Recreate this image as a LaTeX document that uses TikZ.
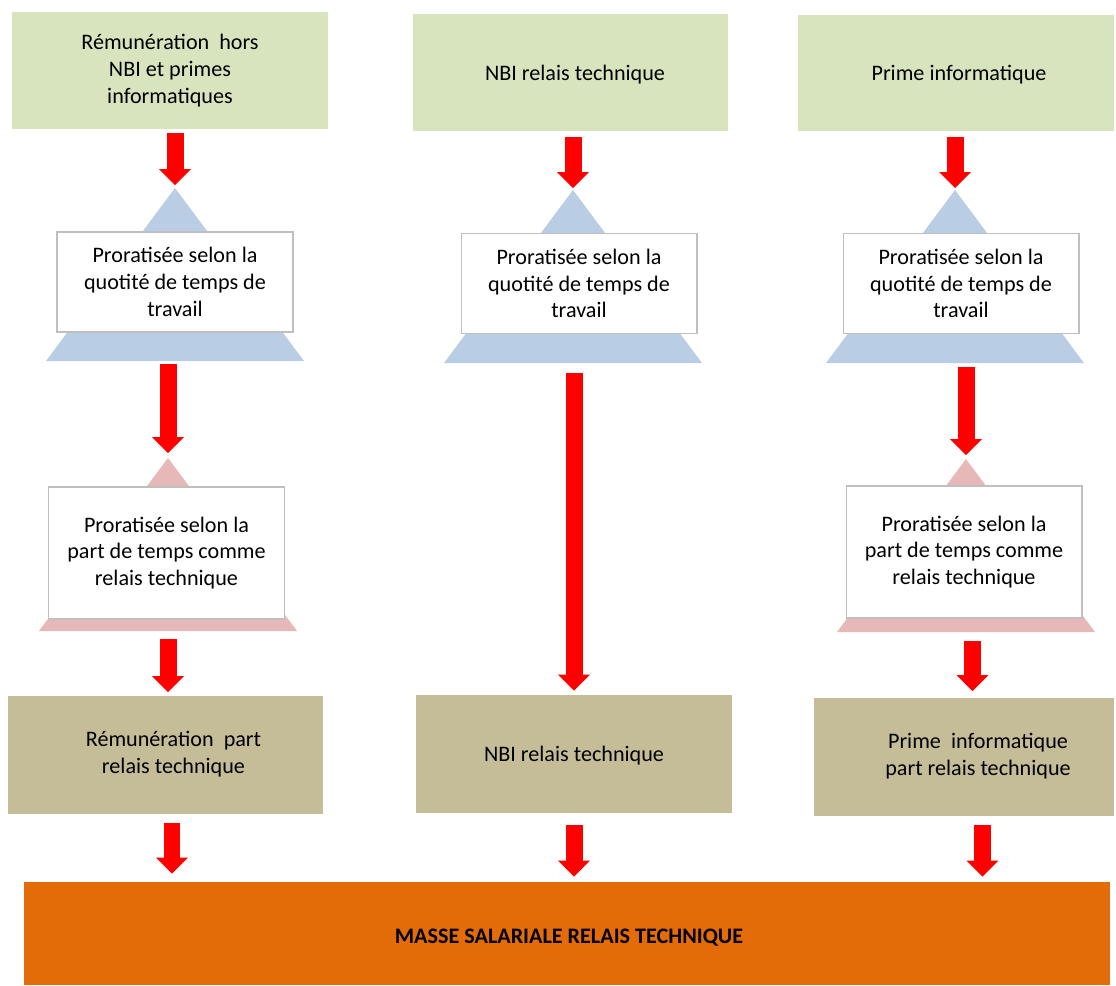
\documentclass[tikz,border=0pt]{standalone}
\usepackage{fontspec}
\setmainfont{Carlito}
\usetikzlibrary{arrows.meta}
\definecolor{srcgreen}{HTML}{D7E4BD}
\definecolor{tribl}{HTML}{B9CDE5}
\definecolor{tripk}{HTML}{E6B9B8}
\definecolor{restan}{HTML}{C4BD97}
\definecolor{totorange}{HTML}{E36C09}
\definecolor{boxgray}{HTML}{BFBFBF}
\definecolor{arrowred}{HTML}{FF0000}

\begin{document}
\begin{tikzpicture}[x=0.02cm, y=-0.02cm,
every node/.style={align=center, inner sep=0pt, font=\fontsize{12.6}{15.3}\selectfont},
srcbox/.style={fill=srcgreen, minimum width=6.32cm, minimum height=2.34cm},
probox/.style={fill=white, draw=boxgray, line width=0.6pt, minimum width=4.72cm},
resbox/.style={fill=restan, minimum width=6.32cm, minimum height=2.36cm},
blockarrow/.style={draw=arrowred, line width=0.34cm,
    -{Triangle[width=0.64cm, length=0.32cm, line width=0pt]}}
]
\useasboundingbox (0,0) rectangle (1116,985);

% sources
\node[srcbox] (src1) at (170,70.5) {Rémunération~ hors\\NBI et primes\\informatiques};
\node[srcbox] (src2) at (570.5,72.5) {};
\node[srcbox] (src3) at (956,73) {};
\node at ([xshift=0.09cm, yshift=-0.04cm]src2.center) {NBI relais technique};
\node at ([xshift=0.06cm, yshift=-0.04cm]src3.center) {Prime informatique};

% triangles behind the proratisation boxes
\foreach \n/\x/\y/\c in {qa/175/188/tribl, qb/573/190/tribl, qc/955/190/tribl,%
                         pa/168/458/tripk, pc/966/459/tripk}{
    \fill[\c] (\x,\y) coordinate (\n) -- ++(-129,173) -- ++(258,0) -- cycle;
    \path (\x,\y) ++(0,173) coordinate (\n-base);
}

% proratisation
\node[probox, minimum height=2cm] (pqa) at (175,282) {Proratisée selon la\\quotité de temps de\\travail};
\node[probox, minimum height=2cm] (pqb) at (579,283.5) {Proratisée selon la\\quotité de temps de\\travail};
\node[probox, minimum height=2cm] (pqc) at (961,283.5) {Proratisée selon la\\quotité de temps de\\travail};
\node[probox, minimum height=2.64cm] (ppa) at (166.5,553) {Proratisée selon la\\part de temps comme\\relais technique};
\node[probox, minimum height=2.64cm] (ppc) at (964,552) {Proratisée selon la\\part de temps comme\\relais technique};

% parts relais technique
\node[resbox] (res1) at (165.5,754.5) {};
\node[resbox] (res2) at (574,754) {};
\node[resbox, minimum width=6cm] (res3) at (964,756.5) {};
\node at ([xshift=0.16cm]res1.center) {Rémunération~ part\\relais technique};
\node at ([yshift=-0.04cm]res2.center) {NBI relais technique};
\node at ([xshift=0.28cm]res3.center) {Prime~ informatique\\part relais technique};

\node[fill=totorange, minimum width=21.72cm, minimum height=2.06cm] (total) at (567,933.5) {};
\node[font=\fontsize{12.6}{15.3}\selectfont\bfseries] at ([xshift=0.04cm, yshift=-0.08cm]total.center)
    {MASSE SALARIALE RELAIS TECHNIQUE};

% arrows
\coordinate (d1) at ([xshift=0.13cm]res1.south);
\coordinate (d3) at ([xshift=0.13cm]pc-base);
\coordinate (d4) at ([xshift=0.37cm]res3.south);

\draw[blockarrow, shorten <=0.08cm, shorten >=0.06cm] (qa |- src1.south) -- (qa);
\draw[blockarrow, shorten <=0.06cm, shorten >=0.1cm] (pa |- qa-base) -- (pa);
\draw[blockarrow, shorten <=0.16cm, shorten >=0.06cm] (pa-base) -- (pa |- res1.north);
\draw[blockarrow, shorten <=0.18cm, shorten >=0.16cm] (d1) -- (d1 |- total.north);

\draw[blockarrow, shorten <=0.12cm, shorten >=0.04cm] (qb |- src2.south) -- (qb);
\draw[blockarrow, shorten <=0.2cm, shorten >=0.08cm] (res2.north |- qb-base) -- (res2.north);
\draw[blockarrow, shorten <=0.24cm, shorten >=0.1cm] (res2.south) -- (res2.south |- total.north);

\draw[blockarrow, shorten <=0.1cm, shorten >=0.04cm] (qc |- src3.south) -- (qc);
\draw[blockarrow, shorten <=0.08cm, shorten >=0.08cm] (pc |- qc-base) -- (pc);
\draw[blockarrow, shorten <=0.18cm, shorten >=0.12cm] (d3) -- (d3 |- res3.north);
\draw[blockarrow, shorten <=0.18cm, shorten >=0.1cm] (d4) -- (d4 |- total.north);
\end{tikzpicture}
\end{document}
